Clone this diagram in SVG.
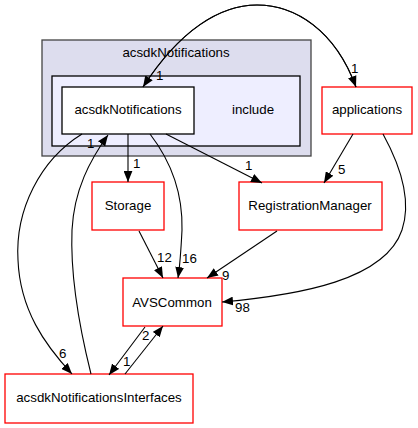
<svg xmlns="http://www.w3.org/2000/svg" width="418" height="428" viewBox="0 0 418 428">
<style>
text{font-family:"Liberation Sans",Arial,sans-serif;font-size:13.3px;fill:#000}
.c{text-anchor:middle}
.e{fill:none;stroke:#000;stroke-width:1.1}
.r{fill:#fff;stroke:#ff0000;stroke-width:1.3}
</style>
<defs>
<marker id="a" viewBox="0 0 10 8" refX="10" refY="4" markerWidth="11" markerHeight="9" markerUnits="userSpaceOnUse" orient="auto">
<path d="M0,0 L10,4 L0,8 Z" fill="#000"/>
</marker>
</defs>
<g id="cluster_acsdkNotifications">
<rect x="42" y="40" width="269" height="116" fill="#ddddee" stroke="#444" stroke-width="1.3"/>
<text class="c" x="176" y="57">acsdkNotifications</text>
</g>
<g id="cluster_include">
<rect x="52" y="76" width="248" height="70" fill="#eeeeff" stroke="#000" stroke-width="1.3"/>
<text class="c" x="253" y="114">include</text>
</g>
<g id="node_acsdkNotifications">
<rect x="62" y="87" width="132" height="47" fill="#fff" stroke="#000" stroke-width="1.3"/>
<text class="c" x="128" y="114">acsdkNotifications</text>
</g>
<g id="node_applications">
<rect class="r" x="322" y="87" width="90" height="47"/>
<text class="c" x="367" y="114">applications</text>
</g>
<g id="node_Storage">
<rect class="r" x="92" y="182" width="72" height="48"/>
<text class="c" x="128" y="210">Storage</text>
</g>
<g id="node_RegistrationManager">
<rect class="r" x="239" y="182" width="143" height="48"/>
<text class="c" x="310" y="210">RegistrationManager</text>
</g>
<g id="node_AVSCommon">
<rect class="r" x="123" y="278" width="99" height="48"/>
<text class="c" x="172" y="307">AVSCommon</text>
</g>
<g id="node_acsdkNotificationsInterfaces">
<rect class="r" x="5" y="374" width="188" height="49"/>
<text class="c" x="99" y="402">acsdkNotificationsInterfaces</text>
</g>
<g id="connectors">
<path class="e" d="M356,87 C335,30 295,5 257,5 C220,5 180,30 143,87" marker-end="url(#a)"/>
<text x="156" y="80">1</text>
<path class="e" d="M143,87 C180,30 220,5 257,5 C295,5 335,30 356,87" marker-end="url(#a)"/>
<text x="351" y="73">1</text>
<path class="e" d="M128,134 L128,182" marker-end="url(#a)"/>
<text x="133" y="168">1</text>
<path class="e" d="M150,134 C170,160 183,190 182,230 C181,250 180,265 178,278" marker-end="url(#a)"/>
<text x="182" y="263">16</text>
<path class="e" d="M166,134 L262,183" marker-end="url(#a)"/>
<text x="245" y="170">1</text>
<path class="e" d="M82,134 C40,160 15,210 18,260 C20,310 45,345 72,374" marker-end="url(#a)"/>
<text x="59" y="358">6</text>
<path class="e" d="M91,374 C80,330 70,280 72,230 C74,190 90,160 108,135" marker-end="url(#a)"/>
<text x="87" y="148">1</text>
<path class="e" d="M353,134 L324,183" marker-end="url(#a)"/>
<text x="338" y="174">5</text>
<path class="e" d="M383,134 C400,165 412,200 402,230 C385,280 300,295 222,302" marker-end="url(#a)"/>
<text x="235" y="312">98</text>
<path class="e" d="M139,231 L163,278" marker-end="url(#a)"/>
<text x="157" y="262">12</text>
<path class="e" d="M277,231 L207,278" marker-end="url(#a)"/>
<text x="222" y="280">9</text>
<path class="e" d="M145,327 L109,375" marker-end="url(#a)"/>
<text x="142" y="340">2</text>
<path class="e" d="M125,374 L163,326" marker-end="url(#a)"/>
<text x="123" y="366">1</text>
</g>
</svg>
